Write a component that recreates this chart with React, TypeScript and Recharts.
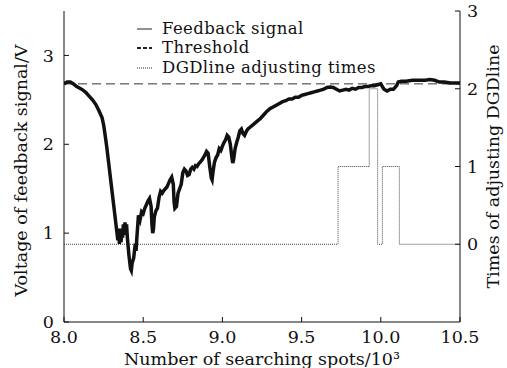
import React from 'react';
import {
  ComposedChart,
  Line,
  XAxis,
  YAxis,
} from 'recharts';

// feedback voltage (V)
const fbSpots = [
  8.0, 8.02, 8.04, 8.06, 8.08, 8.1, 8.12, 8.14, 8.16, 8.18, 8.2, 8.22, 8.24, 8.25, 8.26, 8.27, 8.28, 8.29, 8.3, 8.31,
  8.32, 8.33, 8.34, 8.345, 8.35, 8.355, 8.36, 8.365, 8.37, 8.375, 8.38, 8.385, 8.39, 8.395, 8.4, 8.41, 8.42, 8.425, 8.43, 8.44,
  8.45, 8.455, 8.46, 8.47, 8.48, 8.49, 8.5, 8.51, 8.52, 8.53, 8.54, 8.55, 8.555, 8.56, 8.565, 8.57, 8.58, 8.59, 8.6, 8.61,
  8.62, 8.63, 8.64, 8.65, 8.66, 8.67, 8.68, 8.69, 8.695, 8.7, 8.71, 8.72, 8.73, 8.74, 8.75, 8.76, 8.77, 8.78, 8.79, 8.8,
  8.81, 8.82, 8.83, 8.84, 8.85, 8.86, 8.87, 8.88, 8.89, 8.9, 8.91, 8.92, 8.93, 8.935, 8.94, 8.95, 8.96, 8.97, 8.98, 8.99,
  9.0, 9.01, 9.02, 9.03, 9.04, 9.05, 9.06, 9.065, 9.07, 9.08, 9.09, 9.1, 9.11, 9.12, 9.13, 9.14, 9.15, 9.16, 9.18, 9.2,
  9.22, 9.24, 9.26, 9.28, 9.3, 9.32, 9.34, 9.36, 9.38, 9.4, 9.42, 9.44, 9.46, 9.48, 9.5, 9.52, 9.54, 9.56, 9.58, 9.6,
  9.62, 9.64, 9.66, 9.68, 9.7, 9.72, 9.74, 9.76, 9.78, 9.8, 9.82, 9.84, 9.86, 9.88, 9.9, 9.92, 9.94, 9.96, 9.98, 10.0,
  10.01, 10.02, 10.04, 10.06, 10.08, 10.1, 10.11, 10.13, 10.16, 10.2, 10.24, 10.28, 10.31, 10.34, 10.37, 10.4, 10.44, 10.48, 10.5,
];
const fbVolts = [
  2.68, 2.7, 2.7, 2.68, 2.65, 2.63, 2.61, 2.58, 2.54, 2.5, 2.45, 2.38, 2.3, 2.22, 2.1, 1.97, 1.82, 1.67, 1.52, 1.37,
  1.22, 1.07, 0.92, 1.05, 0.88, 1.02, 0.9, 1.05, 0.95, 1.1, 0.98, 1.12, 1.02, 1.1, 0.95, 0.75, 0.6, 0.58, 0.66, 0.72,
  0.88, 0.8, 0.95, 1.2, 1.15, 1.24, 1.22, 1.28, 1.32, 1.36, 1.39, 1.3, 1.1, 1.0, 1.05, 1.18, 1.25, 1.28, 1.4, 1.47,
  1.45, 1.48, 1.5, 1.52, 1.56, 1.6, 1.63, 1.55, 1.35, 1.28, 1.3, 1.45, 1.5, 1.55, 1.68, 1.72, 1.7, 1.65, 1.66, 1.72,
  1.74, 1.72, 1.76, 1.75, 1.78, 1.8, 1.82, 1.85, 1.88, 1.92, 1.9, 1.75, 1.62, 1.6, 1.68, 1.8, 1.85, 1.88, 1.95, 1.93,
  1.98, 2.02, 2.05, 2.1, 2.08, 2.0, 1.85, 1.79, 1.82, 1.95, 2.02, 2.08, 2.15, 2.17, 2.12, 2.1, 2.14, 2.17, 2.2, 2.23,
  2.26, 2.29, 2.33, 2.37, 2.4, 2.42, 2.44, 2.46, 2.48, 2.49, 2.51, 2.51, 2.53, 2.53, 2.55, 2.56, 2.57, 2.58, 2.59, 2.6,
  2.61, 2.62, 2.64, 2.645, 2.64, 2.62, 2.6, 2.61, 2.62, 2.61, 2.63, 2.62, 2.64, 2.64, 2.65, 2.65, 2.66, 2.66, 2.67, 2.68,
  2.65, 2.62, 2.6, 2.62, 2.62, 2.66, 2.7, 2.71, 2.71, 2.72, 2.72, 2.72, 2.73, 2.72, 2.7, 2.7, 2.69, 2.69, 2.69,
];

const thresholdSpots = [8.0, 10.5];
const thresholdVolts = [2.68, 2.68];

// DGD line adjusting times (right axis), step changes
const dgdSpots = [8.0, 9.73, 9.927, 9.98, 10.01, 10.117, 10.5];
const dgdTimes = [0, 1, 2, 0, 1, 0, 0];

const xTicks = [8.0, 8.5, 9.0, 9.5, 10.0, 10.5];
const leftTicks = [0, 1, 2, 3];
const rightTicks = [0, 1, 2, 3];

const legendItems = [
  { name: 'Feedback signal', dash: undefined, w: 1 },
  { name: 'Threshold', dash: '4 2', w: 2 },
  { name: 'DGDline adjusting times', dash: '1 1', w: 1 },
];

const feedback = fbSpots.map((x, i) => ({ x, v: fbVolts[i] }));
const threshold = thresholdSpots.map((x, i) => ({ x, v: thresholdVolts[i] }));
const dgd = dgdSpots.map((x, i) => ({ x, n: dgdTimes[i] }));

const FONT = '"DejaVu Serif", serif';
const FS = 17.5;
const tickStyle = { fill: '#111', fontSize: FS, fontFamily: FONT };

const LegendBox = () => (
  <div style={{ position: 'absolute', left: 137, top: 19, fontFamily: FONT, fontSize: 16.5, color: '#111', lineHeight: '19.4px' }}>
    {legendItems.map((it) => (
      <div key={it.name} style={{ display: 'flex', alignItems: 'center' }}>
        <svg width={25} height={10}>
          <line x1={0} y1={5} x2={15} y2={5} stroke="#222" strokeWidth={it.w} strokeDasharray={it.dash} />
        </svg>
        <span style={{ letterSpacing: 0.4 }}>{it.name}</span>
      </div>
    ))}
  </div>
);

const LeftLabel = (props: any) => {
  const { x, y, height } = props.viewBox;
  const cx = x + 21;
  const cy = y + height / 2 + 4;
  return (
    <text x={cx} y={cy} transform={`rotate(-90 ${cx} ${cy})`} textAnchor="middle" dominantBaseline="central"
      style={{ fontFamily: FONT, fontSize: FS, fill: '#111' }}>
      Voltage of feedback signal/V
    </text>
  );
};

const RightLabel = (props: any) => {
  const { x, y, height } = props.viewBox;
  const cx = x + 33;
  const cy = y + height / 2;
  return (
    <text x={cx} y={cy} transform={`rotate(-90 ${cx} ${cy})`} textAnchor="middle" dominantBaseline="central"
      style={{ fontFamily: FONT, fontSize: FS, fill: '#111' }}>
      Times of adjusting DGDline
    </text>
  );
};

export default function App() {
  return (
    <div style={{ position: 'absolute', left: 0, top: 0, width: 507, height: 368, background: '#fff' }}>
      <ComposedChart width={507} height={368} margin={{ top: 11, right: 0, bottom: 0, left: 0 }}>
        <XAxis
          xAxisId="b"
          type="number"
          dataKey="x"
          domain={[8, 10.5]}
          ticks={xTicks}
          allowDataOverflow
          tickFormatter={(v) => v.toFixed(1)}
          tick={tickStyle}
          height={46}
          tickSize={-5}
          tickMargin={14}
          axisLine={{ stroke: '#111' }}
          tickLine={{ stroke: '#111' }}
          label={{ value: 'Number of searching spots/10³', position: 'insideBottom', offset: 3, style: { fontFamily: FONT, fontSize: FS, fill: '#111' } }}
        />
        <XAxis
          xAxisId="t"
          orientation="top"
          type="number"
          dataKey="x"
          domain={[8, 10.5]}
          ticks={xTicks}
          height={0}
          tickSize={-5}
          tickFormatter={() => ''}
          axisLine={{ stroke: '#111' }}
          tickLine={{ stroke: '#111' }}
        />
        <YAxis
          yAxisId="left"
          domain={[0, 3.5]}
          ticks={leftTicks}
          width={64}
          tick={tickStyle}
          tickSize={-5}
          tickMargin={15}
          axisLine={{ stroke: '#111' }}
          tickLine={{ stroke: '#111' }}
          label={<LeftLabel />}
        />
        <YAxis
          yAxisId="right"
          orientation="right"
          domain={[-1, 3]}
          ticks={rightTicks}
          width={47}
          tick={tickStyle}
          tickSize={-5}
          tickMargin={12}
          axisLine={{ stroke: '#111' }}
          tickLine={{ stroke: '#111' }}
          label={<RightLabel />}
        />
        <Line
          xAxisId="b"
          yAxisId="left"
          data={threshold}
          dataKey="v"
          name="Threshold"
          type="linear"
          stroke="#333"
          strokeWidth={1}
          strokeDasharray="9 5"
          dot={false}
          isAnimationActive={false}
        />
        <Line
          xAxisId="b"
          yAxisId="right"
          data={dgd}
          dataKey="n"
          name="DGDline adjusting times"
          type="stepAfter"
          stroke="#444"
          strokeWidth={1}
          strokeDasharray="1 1"
          dot={false}
          isAnimationActive={false}
        />
        <Line
          xAxisId="b"
          yAxisId="left"
          data={feedback}
          dataKey="v"
          name="Feedback signal"
          type="linear"
          stroke="#111"
          strokeWidth={3.5}
          dot={false}
          isAnimationActive={false}
        />
      </ComposedChart>
      <LegendBox />
    </div>
  );
}
